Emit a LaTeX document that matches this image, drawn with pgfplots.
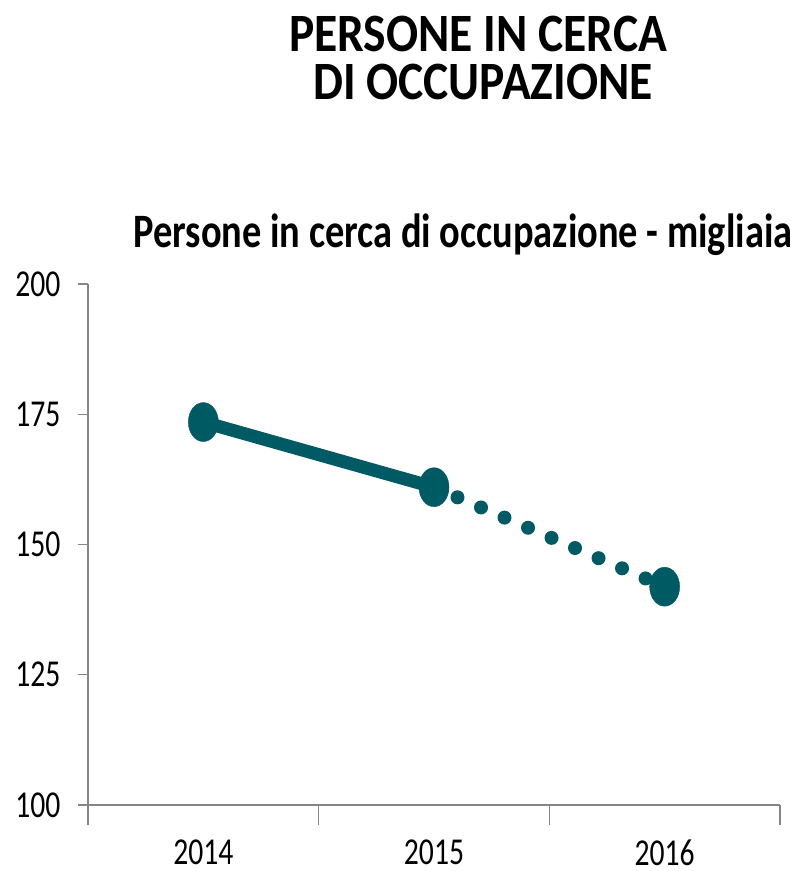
\documentclass[border=0pt]{standalone}
\usepackage{pgfplots}
\pgfplotsset{compat=1.18}
\usepackage{fontspec}
\setmainfont{Carlito}
\newfontfamily\tickfont{Carlito}[FakeStretch=0.78]
\newfontfamily\titlefont{Carlito}[FakeStretch=0.88]
\newfontfamily\subfont{Carlito}[FakeStretch=0.80]
\definecolor{lineteal}{RGB}{0,90,100}
\definecolor{axisgray}{RGB}{134,134,134}
\begin{document}
\begin{tikzpicture}[x=1pt,y=1pt]
\useasboundingbox (0pt,0pt) rectangle (800pt,871pt);
\node[font=\titlefont\bfseries\fontsize{54}{60}\selectfont, anchor=base, inner sep=0pt] at (478pt,819pt) {PERSONE IN CERCA};
\node[font=\titlefont\bfseries\fontsize{54}{60}\selectfont, anchor=base, inner sep=0pt] at (483pt,771pt) {DI OCCUPAZIONE};
\node[font=\subfont\bfseries\fontsize{48}{52}\selectfont, anchor=base] at (463pt,623pt) {Persone in cerca di occupazione - migliaia};
\begin{axis}[
  at={(88pt,66pt)}, anchor=south west,
  scale only axis, width=692pt, height=521pt,
  xmin=0, xmax=3, ymin=100, ymax=200,
  axis x line*=bottom, axis y line*=left,
  axis line style={draw=axisgray, line width=1.2pt},
  xtick={0.5,1.5,2.5}, xticklabels={2014,2015,2016},
  minor xtick={0,1,2,3},
  ytick={100,125,150,175,200},
  tick align=outside,
  major tick length=10pt, minor tick length=20pt,
  major x tick style={draw=none},
  minor x tick style={draw=axisgray, line width=1.2pt},
  y tick style={draw=axisgray, line width=1.2pt},
  /pgf/number format/assume math mode=true,
  tick label style={font=\tickfont\fontsize{38}{38}\selectfont},
  xticklabel style={yshift=-24pt, inner sep=1pt},
  yticklabel style={xshift=-14pt},
  clip=false,
]
\addplot[lineteal, line width=14pt, line cap=round, dash pattern=on 0pt off 25.6pt, mark=none]
  coordinates {(1.5,161.0) (2.5,141.9)};
\addplot[lineteal, line width=13pt, mark=*, mark size=19.5pt,
  mark options={xscale=0.77, fill=lineteal, line width=0.4pt, solid}]
  coordinates {(0.5,173.5) (1.5,161.0)};
\addplot[lineteal, only marks, mark=*, mark size=19.5pt,
  mark options={xscale=0.77, fill=lineteal, line width=0.4pt}]
  coordinates {(2.5,141.9)};
\end{axis}
\end{tikzpicture}
\end{document}
